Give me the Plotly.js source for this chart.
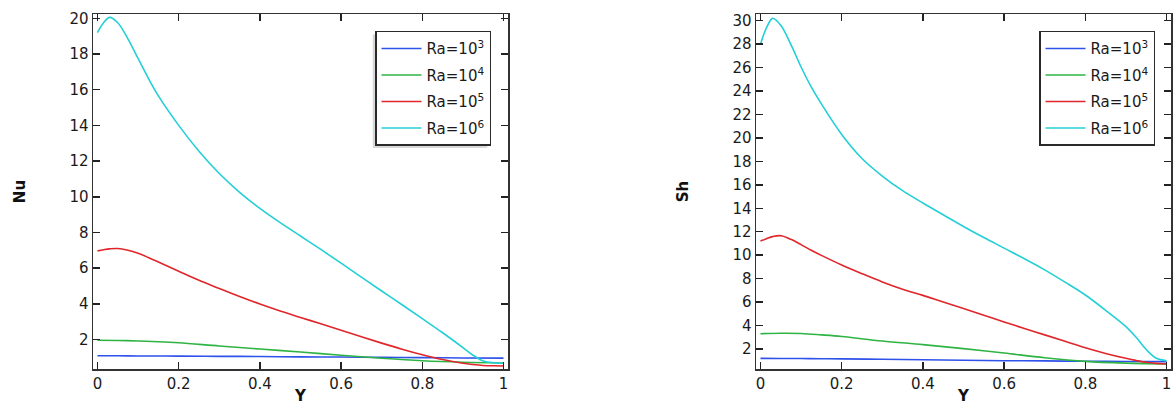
<!DOCTYPE html>
<html>
<head>
<meta charset="utf-8">
<script src="https://cdn.plot.ly/plotly-3.0.1.min.js"></script>
<style>html,body{margin:0;padding:0;background:#fff;}#chart{width:1175px;height:405px;}</style>
</head>
<body>
<div id="chart"></div>
<script>
// Position along the wall (Y)
const Y_fine = [0, 0.015, 0.03, 0.05, 0.075, 0.1, 0.125, 0.15, 0.2, 0.25, 0.3, 0.35, 0.4, 0.45, 0.5, 0.55, 0.6, 0.65, 0.7, 0.75, 0.8, 0.85, 0.9, 0.925, 0.95, 0.975, 1.0];
const Y_coarse = [0, 0.05, 0.1, 0.15, 0.2, 0.3, 0.4, 0.5, 0.6, 0.7, 0.8, 0.9, 1.0];

const seriesNames = ["Ra=10<sup>3</sup>", "Ra=10<sup>4</sup>", "Ra=10<sup>5</sup>", "Ra=10<sup>6</sup>"];
const seriesColors = ["#2e52ea", "#2fb443", "#e0262a", "#24cfd6"];

// Nusselt number (left panel)
const nu_ra3 = [1.09, 1.09, 1.08, 1.08, 1.07, 1.06, 1.05, 1.03, 1.02, 1.00, 0.99, 0.97, 0.96];
const nu_ra4 = [1.96, 1.95, 1.92, 1.88, 1.82, 1.64, 1.47, 1.30, 1.12, 0.95, 0.81, 0.73, 0.69];
const nu_ra5 = [6.97, 7.03, 7.08, 7.10, 7.00, 6.83, 6.60, 6.35, 5.83, 5.32, 4.86, 4.41, 3.99, 3.60, 3.24, 2.88, 2.52, 2.16, 1.80, 1.46, 1.15, 0.88, 0.67, 0.60, 0.55, 0.53, 0.52];
const nu_ra6 = [19.20, 19.75, 20.05, 19.75, 18.85, 17.75, 16.65, 15.65, 14.00, 12.55, 11.30, 10.25, 9.35, 8.55, 7.80, 7.05, 6.28, 5.50, 4.72, 3.95, 3.17, 2.38, 1.55, 1.12, 0.80, 0.70, 0.68];

// Sherwood number (right panel)
const sh_ra3 = [1.20, 1.19, 1.18, 1.17, 1.15, 1.12, 1.08, 1.04, 1.00, 0.98, 0.95, 0.93, 0.92];
const sh_ra4 = [3.30, 3.34, 3.32, 3.20, 3.06, 2.68, 2.37, 2.03, 1.65, 1.25, 0.94, 0.79, 0.72];
const sh_ra5 = [11.20, 11.40, 11.58, 11.66, 11.35, 10.90, 10.42, 9.98, 9.16, 8.42, 7.72, 7.10, 6.57, 6.00, 5.45, 4.88, 4.30, 3.75, 3.20, 2.65, 2.10, 1.62, 1.20, 1.02, 0.86, 0.77, 0.72];
const sh_ra6 = [28.00, 29.40, 30.20, 29.60, 27.95, 26.05, 24.35, 22.90, 20.30, 18.25, 16.75, 15.50, 14.45, 13.45, 12.45, 11.50, 10.60, 9.70, 8.75, 7.70, 6.60, 5.30, 3.90, 3.00, 1.95, 1.20, 1.00];

const xTickVals = [0, 0.2, 0.4, 0.6, 0.8, 1];
const xTickText = ["0", "0.2", "0.4", "0.6", "0.8", "1"];

const FONT = "DejaVu Sans, Verdana, sans-serif";

function mk(x, y, i, xa, ya, leg) {
  return {
    x: x, y: y, type: "scatter", mode: "lines",
    line: {color: seriesColors[i], width: 1.6, shape: "spline", smoothing: 1},
    name: seriesNames[i], xaxis: xa, yaxis: ya, legend: leg,
    legendgroup: leg + i, hoverinfo: "x+y"
  };
}

const traces = [
  mk(Y_coarse, nu_ra3, 0, "x", "y", "legend"),
  mk(Y_coarse, nu_ra4, 1, "x", "y", "legend"),
  mk(Y_fine, nu_ra5, 2, "x", "y", "legend"),
  mk(Y_fine, nu_ra6, 3, "x", "y", "legend"),
  mk(Y_coarse, sh_ra3, 0, "x2", "y2", "legend2"),
  mk(Y_coarse, sh_ra4, 1, "x2", "y2", "legend2"),
  mk(Y_fine, sh_ra5, 2, "x2", "y2", "legend2"),
  mk(Y_fine, sh_ra6, 3, "x2", "y2", "legend2")
];

function xAxis(dom, anchor) {
  return {
    domain: dom, anchor: anchor, range: [-0.011, 1.011],
    tickvals: xTickVals, ticktext: xTickText,
    ticks: "inside", ticklen: 7, tickwidth: 1.5, tickcolor: "#222",
    showline: true, linecolor: "#333", linewidth: 1.5, mirror: "allticks",
    showgrid: false, zeroline: false,
    tickfont: {family: FONT, size: 15, color: "#1a1a1a"},
    title: {text: "<b>Y</b>", standoff: 1, font: {family: FONT, size: 15, color: "#111"}},
    automargin: false
  };
}
function yAxis(dom, anchor, rng, dt, title, standoff) {
  return {
    domain: dom, anchor: anchor, range: rng, tick0: 0, dtick: dt,
    ticks: "inside", ticklen: 7, tickwidth: 1.5, tickcolor: "#222",
    showline: true, linecolor: "#333", linewidth: 1.5, mirror: "allticks",
    showgrid: false, zeroline: false,
    tickfont: {family: FONT, size: 15, color: "#1a1a1a"},
    title: {text: "<b>" + title + "</b>", standoff: standoff, font: {family: FONT, size: 15, color: "#111"}},
    automargin: false
  };
}
function legend(xr) {
  return {
    x: xr, xanchor: "right", y: 0.924, yanchor: "top",
    bgcolor: "#ffffff", bordercolor: "#2a2a2a", borderwidth: 1.5,
    font: {family: FONT, size: 15, color: "#1a1a1a"},
    traceorder: "grouped", tracegroupgap: 4, itemwidth: 40
  };
}

const yDom = [36 / 405, 391 / 405];
const layout = {
  width: 1175, height: 405,
  margin: {l: 0, r: 0, t: 0, b: 0},
  paper_bgcolor: "#ffffff", plot_bgcolor: "#ffffff",
  showlegend: true,
  xaxis: xAxis([93 / 1175, 508 / 1175], "y"),
  yaxis: yAxis(yDom, "x", [0.35, 20.24], 2, "Nu", 40),
  xaxis2: xAxis([756 / 1175, 1171 / 1175], "y2"),
  yaxis2: yAxis(yDom, "x2", [0.29, 30.57], 2, "Sh", 40),
  legend: legend(491 / 1175),
  legend2: legend(1155 / 1175)
};

Plotly.newPlot("chart", traces, layout, {displayModeBar: false, staticPlot: true}).then(function (gd) {
  // soft drop shadow behind each legend box (decoration only)
  const root = gd.getBoundingClientRect();
  const shapes = [];
  gd.querySelectorAll(".legend .bg").forEach(function (bg) {
    const r = bg.getBoundingClientRect();
    const x0 = r.left - root.left - 3, x1 = r.right - root.left - 3;
    const y0 = r.top - root.top + 3, y1 = r.bottom - root.top + 3;
    shapes.push({type: "rect", xref: "paper", yref: "paper", layer: "above",
      x0: x0 / 1175, x1: x1 / 1175, y0: 1 - y1 / 405, y1: 1 - y0 / 405,
      fillcolor: "#d8d8d8", line: {width: 0}});
  });
  return Plotly.relayout(gd, {shapes: shapes});
});
</script>
</body>
</html>
